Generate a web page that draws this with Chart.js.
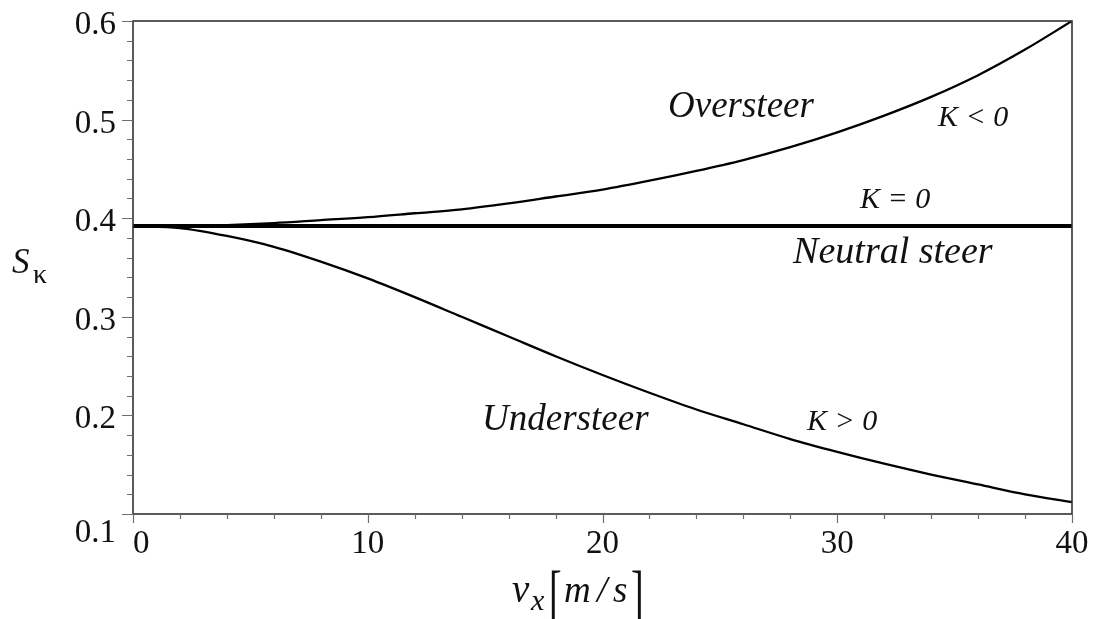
<!DOCTYPE html>
<html>
<head>
<meta charset="utf-8">
<script src="https://cdn.jsdelivr.net/npm/chart.js@4.4.1/dist/chart.umd.min.js"></script>
<style>
  html, body { margin: 0; padding: 0; background: #ffffff; }
  canvas { display: block; }
</style>
</head>
<body>
<canvas id="steer" width="1094" height="619"></canvas>
<script>
// Forward speed v_x [m/s]
const speeds = [0, 2, 4, 6, 8, 10, 12, 14, 16, 18, 20, 22, 24, 26, 28, 30, 32, 34, 36, 38, 40];

// Curvature response S_kappa for the three steering characteristics
const oversteer  = [0.392, 0.392, 0.393, 0.395, 0.398, 0.401, 0.405, 0.409, 0.415, 0.422, 0.429,
                    0.438, 0.448, 0.459, 0.472, 0.487, 0.504, 0.523, 0.545, 0.571, 0.600];
const neutral    = [0.392, 0.392, 0.392, 0.392, 0.392, 0.392, 0.392, 0.392, 0.392, 0.392, 0.392,
                    0.392, 0.392, 0.392, 0.392, 0.392, 0.392, 0.392, 0.392, 0.392, 0.392];
const understeer = [0.392, 0.390, 0.382, 0.371, 0.356, 0.339, 0.320, 0.300, 0.280, 0.260, 0.241,
                    0.223, 0.206, 0.191, 0.176, 0.163, 0.151, 0.140, 0.130, 0.120, 0.112];

// Axis ticks
const xMajorTicks = [0, 10, 20, 30, 40];
const xTickLabels = ['0', '10', '20', '30', '40'];
const xMinorTicks = [2, 4, 6, 8, 12, 14, 16, 18, 22, 24, 26, 28, 32, 34, 36, 38];
const yMajorTicks = [0.1, 0.2, 0.3, 0.4, 0.5, 0.6];
const yTickLabels = ['0.1', '0.2', '0.3', '0.4', '0.5', '0.6'];
const yMinorTicks = [0.12, 0.14, 0.16, 0.18, 0.22, 0.24, 0.26, 0.28, 0.32, 0.34, 0.36, 0.38,
                     0.42, 0.44, 0.46, 0.48, 0.52, 0.54, 0.56, 0.58];

// In-plot annotations (text, anchor in data units)
const notes = [
  { text: 'Oversteer',     x: 22.79, y: 0.5026, size: 37 },
  { text: 'K < 0',         x: 34.29, y: 0.4935, size: 30 },
  { text: 'K = 0',         x: 30.97, y: 0.4103, size: 30 },
  { text: 'Neutral steer', x: 28.12, y: 0.3546, size: 38 },
  { text: 'Understeer',    x: 14.87, y: 0.1852, size: 37 },
  { text: 'K > 0',         x: 28.71, y: 0.1852, size: 30 }
];

const SERIF = '"Liberation Serif", "Times New Roman", "DejaVu Serif", serif';

const toPoints = (ys) => speeds.map((v, i) => ({ x: v, y: ys[i] }));

// tall, thin square bracket: a normal glyph stretched vertically
function tallBracket(ctx, ch, x, baseline) {
  ctx.save();
  ctx.translate(x, baseline);
  ctx.scale(1, 1.7);
  ctx.font = '38px ' + SERIF;
  ctx.fillText(ch, 0, 0);
  ctx.restore();
}

const frameAndText = {
  id: 'frameAndText',
  afterDraw(chart) {
    const ctx = chart.ctx;
    const a = chart.chartArea;
    const xs = chart.scales.x;
    const ys = chart.scales.y;
    ctx.save();

    // frame
    ctx.strokeStyle = '#333333';
    ctx.lineWidth = 1.6;
    ctx.strokeRect(a.left, a.top, a.right - a.left, a.bottom - a.top);

    // tick marks
    ctx.strokeStyle = '#6e6e6e';
    ctx.lineWidth = 1.2;
    ctx.beginPath();
    yMajorTicks.forEach(v => {
      const p = Math.round(ys.getPixelForValue(v)) + 0.5;
      ctx.moveTo(a.left - 11, p); ctx.lineTo(a.left, p);
    });
    yMinorTicks.forEach(v => {
      const p = Math.round(ys.getPixelForValue(v)) + 0.5;
      ctx.moveTo(a.left - 6, p); ctx.lineTo(a.left, p);
    });
    xMajorTicks.forEach(v => {
      const p = Math.round(xs.getPixelForValue(v)) + 0.5;
      ctx.moveTo(p, a.bottom); ctx.lineTo(p, a.bottom + 9);
    });
    xMinorTicks.forEach(v => {
      const p = Math.round(xs.getPixelForValue(v)) + 0.5;
      ctx.moveTo(p, a.bottom); ctx.lineTo(p, a.bottom + 5);
    });
    ctx.stroke();

    // tick labels
    ctx.fillStyle = '#111111';
    ctx.font = '33px ' + SERIF;
    ctx.textBaseline = 'alphabetic';
    ctx.textAlign = 'right';
    yMajorTicks.forEach((v, i) => {
      const p = ys.getPixelForValue(v);
      const drop = (v === ys.min) ? 28 : 13;
      ctx.fillText(yTickLabels[i], a.left - 17, p + drop);
    });
    xMajorTicks.forEach((v, i) => {
      const p = xs.getPixelForValue(v);
      ctx.textAlign = (v === xs.min) ? 'left' : 'center';
      ctx.fillText(xTickLabels[i], p, a.bottom + 39);
    });

    // y-axis title: S_kappa
    ctx.textAlign = 'left';
    ctx.font = 'italic 35px ' + SERIF;
    ctx.fillText('S', 12, 273);
    ctx.font = '28px ' + SERIF;
    ctx.fillText('\u03BA', 33, 283);

    // x-axis title: v_x [m / s]
    ctx.font = 'italic 39px ' + SERIF;
    ctx.fillText('v', 512, 602);
    ctx.font = 'italic 30px ' + SERIF;
    ctx.fillText('x', 531, 610);
    tallBracket(ctx, '[', 549, 616);
    ctx.font = 'italic 37px ' + SERIF;
    ctx.fillText('m', 564, 602);
    ctx.fillText('/', 597, 602);
    ctx.fillText('s', 613, 602);
    tallBracket(ctx, ']', 631, 616);

    // annotations
    notes.forEach(n => {
      ctx.font = 'italic ' + n.size + 'px ' + SERIF;
      ctx.fillText(n.text, xs.getPixelForValue(n.x), ys.getPixelForValue(n.y));
    });

    ctx.restore();
  }
};

new Chart(document.getElementById('steer'), {
  type: 'line',
  data: {
    datasets: [
      { label: 'Oversteer (K < 0)', data: toPoints(oversteer), borderColor: '#000000', borderWidth: 2.3 },
      { label: 'Understeer (K > 0)', data: toPoints(understeer), borderColor: '#000000', borderWidth: 2.3 },
      { label: 'Neutral steer (K = 0)', data: toPoints(neutral), borderColor: '#000000', borderWidth: 4 }
    ]
  },
  options: {
    responsive: false,
    animation: false,
    events: [],
    layout: { padding: { left: 133, top: 21, right: 22, bottom: 105 } },
    elements: {
      point: { radius: 0 },
      line: { tension: 0.4, cubicInterpolationMode: 'monotone', fill: false }
    },
    scales: {
      x: { type: 'linear', min: 0, max: 40, display: false },
      y: { type: 'linear', min: 0.1, max: 0.6, display: false }
    },
    plugins: { legend: { display: false }, tooltip: { enabled: false } }
  },
  plugins: [frameAndText]
});
</script>
</body>
</html>
